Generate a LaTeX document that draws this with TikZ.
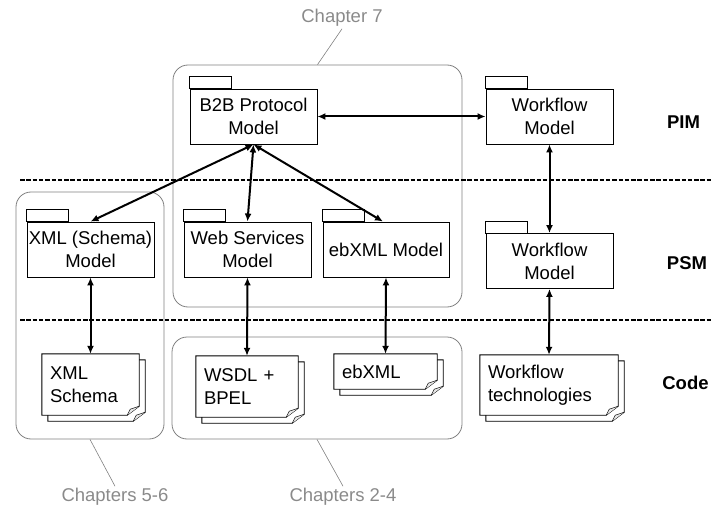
\documentclass[tikz,border=0pt]{standalone}
\usepackage{fontspec}
\setmainfont{Liberation Sans}
\usetikzlibrary{arrows.meta,calc,backgrounds}
\definecolor{labgray}{HTML}{8A8A8A}
\definecolor{boxgray}{HTML}{808080}
\definecolor{foldgray}{HTML}{E6E6E6}
\begin{document}
\begin{tikzpicture}[x=1pt,y=-1pt,
  font=\fontsize{18.5}{23}\selectfont,
  pkg/.style={draw=black, line width=0.9pt, fill=white, minimum width=127pt,
    minimum height=55pt, align=center, inner sep=0pt},
  docnode/.style={inner xsep=8pt, inner ysep=0pt, align=left},
  sheet/.style={draw=black, line width=0.9pt, fill=white},
  foldmark/.style={draw=black, line width=0.5pt, fill=foldgray},
  chapbox/.style={draw=boxgray, line width=0.8pt, rounded corners=15pt},
  chaplabel/.style={text=labgray, inner sep=2pt},
  chapline/.style={draw=boxgray, line width=0.6pt},
  layer/.style={dash pattern=on 4.5pt off 1.8pt, line width=2pt},
  conn/.style={line width=2pt, {Latex[length=8pt,width=7pt]}-{Latex[length=8pt,width=7pt]}},
  level/.style={font=\fontsize{18.5}{23}\selectfont\bfseries}
]
\useasboundingbox (0,0) rectangle (713,511);

% chapter boxes
\node[chapbox, minimum width=289pt, minimum height=242pt] (ch7) at (317.5,186) {};
\node[chapbox, minimum width=148pt, minimum height=247pt] (ch56) at (90,315.5) {};
\node[chapbox, minimum width=290pt, minimum height=102pt] (ch24) at (317,388) {};

% chapter labels
\node[chaplabel] (l7) at (342,18) {Chapter 7};
\node[chaplabel] (l56) at (115,497) {Chapters 5-6};
\node[chaplabel] (l24) at (343,497) {Chapters 2-4};
\draw[chapline] (l7.south) -- (ch7.north);
\draw[chapline] (ch56.south) -- (l56.north);
\draw[chapline] (ch24.south) -- (l24.north);

% layer separators
\coordinate (d1a) at (20,180);
\coordinate (d1b) at (713,180);
\coordinate (d2a) at (20,320);
\coordinate (d2b) at (713,320);
\draw[layer] (d1a) -- (d1b);
\draw[layer] (d2a) -- (d2b);

% packages
\node[pkg] (b2b) at (253.5,116.5) {B2B Protocol\\Model};
\node[pkg] (wfpim) at (549.5,116.5) {Workflow\\Model};
\node[pkg] (wfpsm) at (549.5,261) {Workflow\\Model};
\node[pkg] (xmlm) at (90.5,249.5) {XML (Schema)\\Model};
\node[pkg] (wsm) at (247.5,249.5) {Web Services\\Model};
\node[pkg, minimum width=126pt] (ebm) at (386,249.5) {ebXML Model};
\foreach \n in {b2b,wfpim,wfpsm,xmlm,wsm,ebm}{
  \draw[line width=0.9pt] (\n.north west) rectangle ++(42,-12);
}

% documents
\node[docnode, text width=81pt, minimum height=61pt] (xmls) at (90.5,384.5) {XML\\Schema};
\node[docnode, text width=86pt, minimum height=61pt] (wsdl) at (247,386.5) {WSDL +\\BPEL};
\node[docnode, text width=87pt, minimum height=35pt] (ebx) at (385.5,371.5) {ebXML};
\node[docnode, text width=122pt, minimum height=60pt] (wft) at (549,385) {Workflow\\technologies};

\begin{scope}[on background layer]
\foreach \n in {xmls,wsdl,ebx,wft}{
  \coordinate (bnw) at ($(\n.north west)+(6,6)$);
  \coordinate (bse) at ($(\n.south east)+(6,6)$);
  \draw[sheet] (bnw) -- (bnw -| bse) -- ($(bse)+(0,-9)$) -- ($(bse)+(-12,0)$) -- (bse -| bnw) -- cycle;
  \draw[foldmark] ($(bse)+(0,-9)$) -- ($(bse)+(-9,-6)$) -- ($(bse)+(-12,0)$);
  \coordinate (fnw) at (\n.north west);
  \coordinate (fse) at (\n.south east);
  \draw[sheet] (fnw) -- (fnw -| fse) -- ($(fse)+(0,-9)$) -- ($(fse)+(-12,0)$) -- (fse -| fnw) -- cycle;
  \draw[foldmark] ($(fse)+(0,-9)$) -- ($(fse)+(-9,-6)$) -- ($(fse)+(-12,0)$);
}
\end{scope}

% connectors
\draw[conn] (b2b.east) -- (wfpim.west);
\draw[conn] (b2b.south) -- (xmlm.north);
\draw[conn] (b2b.south) -- (wsm.north);
\draw[conn] (b2b.south) -- ([xshift=-3pt]ebm.north);
\draw[conn] (wfpim.south) -- (wfpsm.north);
\draw[conn] (wfpsm.south) -- (wft.north);
\draw[conn] (xmlm.south) -- (xmls.north);
\draw[conn] (wsm.south) -- (wsdl.north);
\draw[conn] (ebm.south) -- (ebx.north);

% level labels
\node[level] (pim) at (683.5,122) {PIM};
\node[level] (psm) at (687,263) {PSM};
\node[level] (code) at (685.5,383) {Code};
\end{tikzpicture}
\end{document}
